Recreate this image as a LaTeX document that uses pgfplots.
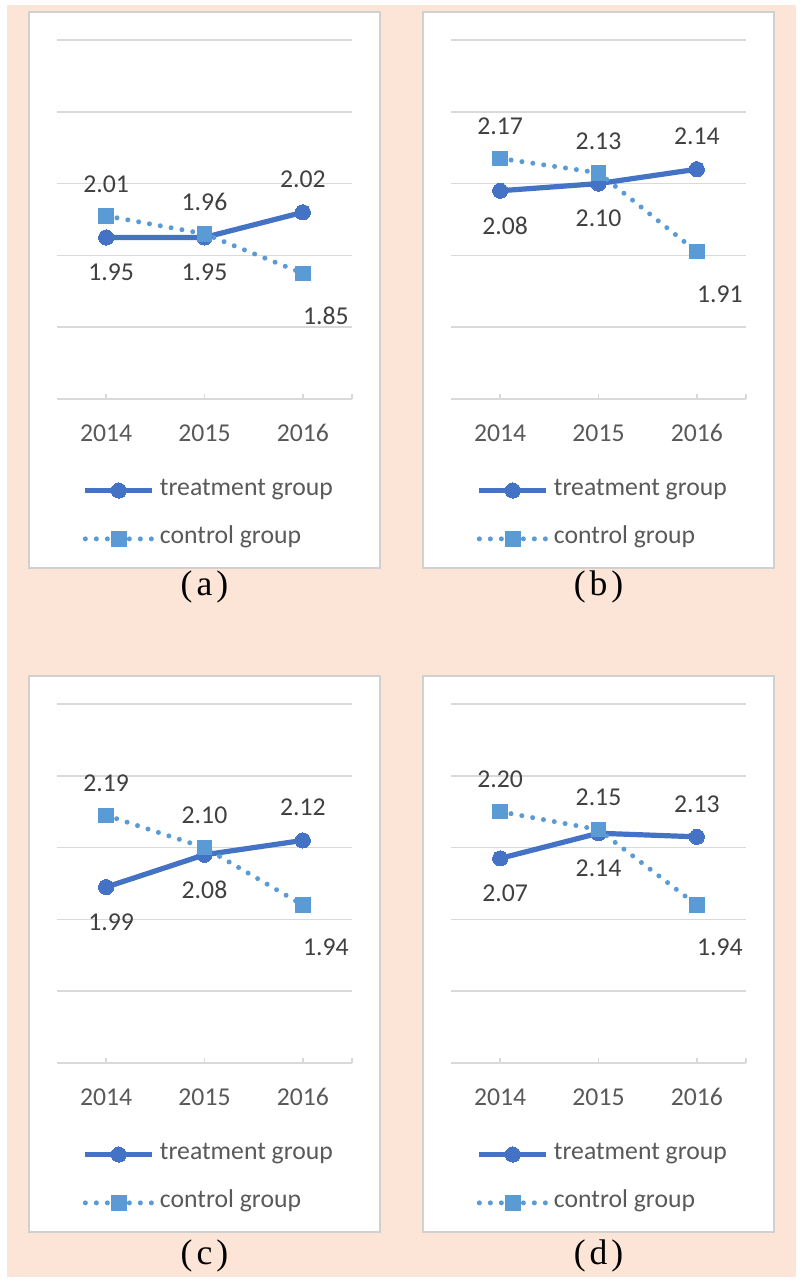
\documentclass[border=0pt]{standalone}
\usepackage{fontspec}
\setmainfont{Carlito}
\newfontfamily\capfont{Liberation Serif}
\usepackage{pgfplots}
\pgfplotsset{compat=1.18}
\definecolor{peach}{HTML}{FCE4D6}
\definecolor{gridc}{HTML}{D9D9D9}
\definecolor{boxc}{HTML}{D0D0D0}
\definecolor{tblue}{HTML}{4472C4}
\definecolor{cblue}{HTML}{5B9BD5}
\definecolor{labc}{HTML}{404040}
\definecolor{tickc}{HTML}{595959}
\newcommand\lblfont{\fontsize{12.85}{15}\selectfont}
\pgfkeys{/pgf/number format/.cd, fixed, fixed zerofill, precision=2, assume math mode=true}
\pgfplotsset{
  legend image code/.code={\draw[mark repeat=2,mark phase=2,#1] plot coordinates {(0pt,0pt) (16.75pt,0pt) (33.5pt,0pt)};},
  panel/.style={
    scale only axis, width=147.5pt, height=179.5pt, anchor=south west,
    xmin=-0.5, xmax=2.5, ymin=1.5, ymax=2.5,
    xtick={0,1,2}, xticklabels={2014,2015,2016},
    extra x ticks={2.5}, extra x tick labels={},
    ytick={1.5,1.7,1.9,2.1,2.3,2.5}, yticklabels={},
    ymajorgrids, grid style={gridc, line width=0.75pt},
    axis lines*=left, y axis line style={draw=none}, x axis line style={gridc, line width=0.75pt},
    ytick style={draw=none}, xtick style={gridc, line width=0.75pt},
    tick align=inside, major tick length=2.5pt,
    xticklabel style={anchor=center, yshift=-17pt, font=\lblfont, text=tickc},
    clip=false,
    legend cell align=left,
    legend style={at={(0.086,-0.2261)}, anchor=north west, draw=none, fill=none,
      inner sep=0pt, row sep=14.15pt, column sep=2.5pt, font=\lblfont,
      nodes={inner sep=0pt, text height=0.75em, text depth=0.25em, text=tickc}},
  },
  treat/.style={tblue, line width=2.6pt, mark=*, mark size=3.8pt,
    mark options={solid, fill=tblue, draw=tblue, line width=0pt}},
  ctrl/.style={cblue, line width=2.5pt, line cap=round, dash pattern=on 0pt off 5.5pt,
    mark=square*, mark size=3.6pt, mark options={solid, fill=cblue, draw=cblue, line width=0pt}},
  lbl/.style={forget plot, draw=none, mark=none, nodes near coords,
    every node near coord/.append style={anchor=center, font=\lblfont, text=labc, inner sep=0pt}},
}
\newcommand{\panel}[8]{%
  \fill[white] (#1-14pt,#2-84.5pt) rectangle (#1+161.5pt,#2+193.5pt);
  \draw[boxc, line width=0.75pt] (#1-14pt,#2-84.5pt) rectangle (#1+161.5pt,#2+193.5pt);
  \begin{axis}[panel, at={(#1,#2)}]
    \addplot[treat] coordinates {(0,#3) (1,#4) (2,#5)};
    \addlegendentry{treatment group}
    \addplot[ctrl] coordinates {(0,#6) (1,#7) (2,#8)};
    \addlegendentry{control group}
    \addplot[lbl, every node near coord/.append style={xshift=2.5pt, yshift=-17.5pt}] coordinates {(0,#3)};
    \addplot[lbl, every node near coord/.append style={yshift=-17.5pt}] coordinates {(1,#4)};
    \addplot[lbl, every node near coord/.append style={yshift=16.5pt}] coordinates {(2,#5)};
    \addplot[lbl, every node near coord/.append style={yshift=16pt}] coordinates {(0,#6) (1,#7)};
    \addplot[lbl, every node near coord/.append style={xshift=11.5pt, yshift=-21pt}] coordinates {(2,#8)};
  \end{axis}
}
\newcommand{\capt}[2]{\node[font=\capfont\fontsize{17.8}{20}\selectfont, text=black] at (#1) {(\kern2pt #2\kern2pt)};}
\begin{document}
\begin{tikzpicture}
  \fill[white] (0,0) rectangle (400pt,641.5pt);
  \fill[peach] (3.5pt,3pt) rectangle (398pt,639pt);
  \panel{28.5pt}{442pt}{1.95}{1.95}{2.02}{2.01}{1.96}{1.85}
  \panel{225.5pt}{442pt}{2.08}{2.10}{2.14}{2.17}{2.13}{1.91}
  \panel{28.5pt}{110pt}{1.99}{2.08}{2.12}{2.19}{2.10}{1.94}
  \panel{225.5pt}{110pt}{2.07}{2.14}{2.13}{2.20}{2.15}{1.94}
  \capt{102.25pt,348pt}{a}
  \capt{299.25pt,348pt}{b}
  \capt{102.25pt,13.5pt}{c}
  \capt{299.25pt,13.5pt}{d}
\end{tikzpicture}
\end{document}
